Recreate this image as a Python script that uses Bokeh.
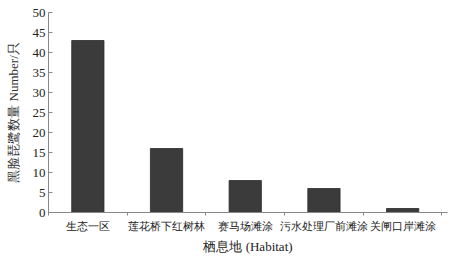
from bokeh.plotting import figure
from bokeh.models import FixedTicker, ColumnDataSource, Range1d
from bokeh.embed import file_html
from bokeh.resources import INLINE

habitats = ["生态一区", "莲花桥下红树林", "赛马场滩涂", "污水处理厂前滩涂", "关闸口岸滩涂"]
counts = [43, 16, 8, 6, 1]
y_ticks = [0, 5, 10, 15, 20, 25, 30, 35, 40, 45, 50]

xs = [i + 1 for i in range(len(habitats))]
src = ColumnDataSource(dict(x=xs, top=counts))

p = figure(width=462, height=256, output_backend="svg", toolbar_location=None,
           x_range=Range1d(0.5, len(habitats) + 0.57), y_range=Range1d(0, 50),
           min_border_left=48, min_border_top=12, min_border_right=15, min_border_bottom=43)
p.vbar(x="x", top="top", width=0.41, source=src, fill_color="#3b3b3b", line_color="#2a2a2a", line_width=0.8)

p.grid.visible = False
p.outline_line_color = None
p.background_fill_color = "white"

xa = p.xaxis[0]
xa.ticker = FixedTicker(ticks=xs, minor_ticks=[i + 0.5 for i in range(len(habitats) + 1)])
xa.major_label_overrides = {x: h for x, h in zip(xs, habitats)}
xa.major_tick_line_color = None
xa.major_tick_out = 0
xa.major_tick_in = 0
xa.minor_tick_line_color = "#888888"
xa.minor_tick_out = 3
xa.minor_tick_in = 0
xa.axis_line_color = "#888888"
xa.major_label_text_font = "Liberation Serif"
xa.major_label_text_font_size = "11px"
xa.major_label_text_line_height = 1.0
xa.major_label_text_color = "#222222"
xa.major_label_standoff = 4
xa.axis_label = "栖息地 (Habitat)"
xa.axis_label_text_font = "Liberation Serif"
xa.axis_label_text_font_style = "normal"
xa.axis_label_text_font_size = "13px"
xa.axis_label_text_line_height = 1.0
xa.axis_label_text_color = "#222222"
xa.axis_label_standoff = 4

ya = p.yaxis[0]
ya.ticker = FixedTicker(ticks=y_ticks, minor_ticks=[])
ya.major_tick_in = 4
ya.major_tick_out = 0
ya.major_tick_line_color = "#888888"
ya.axis_line_color = "#888888"
ya.major_label_text_font = "Liberation Serif"
ya.major_label_text_font_size = "13px"
ya.major_label_text_color = "#222222"
ya.major_label_standoff = 3
ya.axis_label = "黑脸琵鹭数量 Number/只"
ya.axis_label_text_font = "Liberation Serif"
ya.axis_label_text_font_style = "normal"
ya.axis_label_text_font_size = "13px"
ya.axis_label_text_color = "#333333"
ya.axis_label_standoff = 9

open("out.html", "w").write(file_html(p, INLINE))
